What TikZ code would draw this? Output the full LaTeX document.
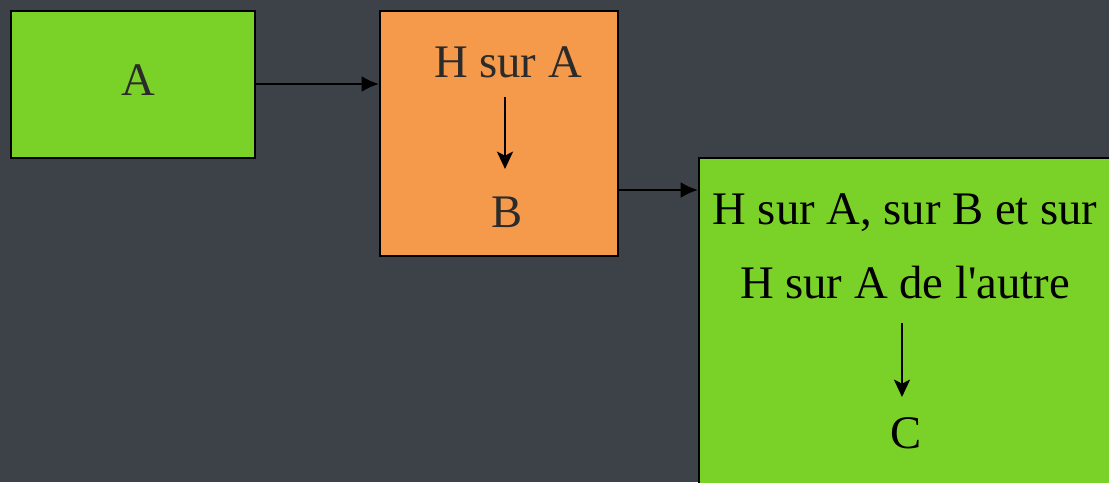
\documentclass[tikz,border=0pt]{standalone}
\usepackage{fontspec}
\setmainfont{Liberation Serif}[Ligatures=TeXOff]
\usetikzlibrary{arrows.meta}
\definecolor{bg}{HTML}{3D4148}
\definecolor{lgreen}{HTML}{7AD128}
\definecolor{lorange}{HTML}{F5994A}
\definecolor{txtgray}{HTML}{2B2B2B}
\begin{document}
\begin{tikzpicture}[x=0.75pt,y=-0.75pt,
  box/.style={draw=black,line width=1.5pt,inner sep=0pt,anchor=north west},
  lbl/.style={inner sep=0pt,anchor=base,font=\fontsize{35}{42}\selectfont},
  conn/.style={line width=2pt,-{Latex[length=13pt,width=12pt]}},
  vconn/.style={line width=2pt,-{Stealth[length=13pt,width=12pt,inset=3pt]}}]
\fill[bg] (0,0) rectangle (1109,482);
\useasboundingbox (0,0) rectangle (1109,482);
\clip (0,0) rectangle (1109,482);
% boxes
\node[box,fill=lgreen,minimum width=244*0.75pt,minimum height=147*0.75pt] (boxA) at (10,10) {};
\node[box,fill=lorange,minimum width=238*0.75pt,minimum height=245*0.75pt] (boxO) at (379,10) {};
\node[box,fill=lgreen,minimum width=420*0.75pt,minimum height=340*0.75pt] (boxG) at (698,157) {};
% texts
\node[lbl,text=txtgray] (tA) at (138,95) {A};
\node[lbl,text=txtgray] (tHA) at (508,77) {H sur A};
\node[lbl,text=txtgray] (tB) at (507,227) {B};
\node[lbl,text=black] (tG1) at (905,224) {H sur A, sur B et sur};
\node[lbl,text=black] (tG2) at (905,298) {H sur A de l'autre};
\node[lbl,text=black] (tC) at (906,448) {C};
% inner arrow anchors
\coordinate (o1) at (505,97);
\coordinate (o2) at (505,169);
\coordinate (g1) at (902,323);
\coordinate (g2) at (902,397);
\coordinate (ag) at (698,190);
% connectors
\draw[conn] (boxA.east |- 0,84) -- (boxO.west |- 0,84);
\draw[conn] (boxO.east |- ag) -- (ag);
\draw[vconn] (o1) -- (o2);
\draw[vconn] (g1) -- (g2);
\end{tikzpicture}
\end{document}
